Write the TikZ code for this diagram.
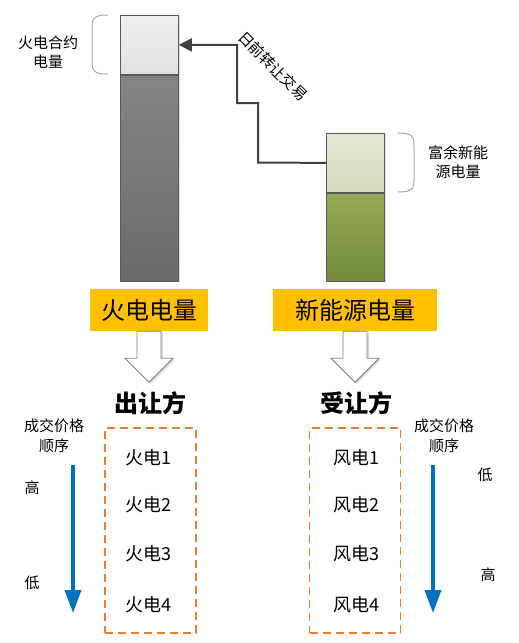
\documentclass[tikz,border=0pt]{standalone}
\usepackage{fontspec}
\setmainfont{Noto Sans CJK SC}
\usetikzlibrary{arrows.meta,positioning,shadows}
\definecolor{barline}{HTML}{595959}
\definecolor{linkgray}{HTML}{404040}
\definecolor{bracegray}{HTML}{A6A6A6}
\definecolor{gold}{HTML}{FFC000}
\definecolor{dashorange}{HTML}{ED7D31}
\definecolor{arrowblue}{HTML}{0070C0}
\newcommand{\fs}[1]{\fontsize{#1}{1.3\dimexpr#1pt\relax}\selectfont}

\begin{document}
\begin{tikzpicture}[x=1pt,y=-1pt,>=Stealth,
  barpart/.style={draw=barline,line width=0.8pt,minimum width=58pt,inner sep=0pt,
    drop shadow={shadow xshift=2pt,shadow yshift=-1pt,opacity=.25}},
  note/.style={font=\fs{15},align=center,inner sep=0pt},
  bracepath/.style={draw=bracegray,line width=1pt},
  goldbox/.style={fill=gold,minimum height=42pt,inner sep=0pt,font=\fs{24}},
  hollow/.style={draw=gray,fill=white,line width=0.8pt,
    drop shadow={shadow xshift=2pt,shadow yshift=-1.5pt,opacity=.3}},
  party/.style={font=\fs{24}\bfseries,inner sep=0pt},
  listbox/.style={draw=dashorange,line width=1.5pt,dash pattern=on 8pt off 5pt,
    minimum width=91pt,minimum height=205pt,inner sep=0pt},
  item/.style={font=\fs{18},inner sep=0pt},
  order/.style={draw=arrowblue,line width=3.5pt,-{Triangle[length=23pt,width=16pt]}},
  link/.style={draw=linkgray,line width=2pt}]
\useasboundingbox (0,0) rectangle (519,643);

% bars
\node[barpart,top color=white!94!black,bottom color=white!88!black,
  minimum height=59pt,anchor=north west] (glight) at (120,15) {};
\node[barpart,top color=black!48,bottom color=black!58,
  minimum height=206pt,anchor=north] (gdark) at (glight.south) {};
\node[barpart,top color={rgb,255:red,226;green,231;blue,211},bottom color={rgb,255:red,214;green,221;blue,190},
  minimum height=59pt,anchor=north west] (nlight) at (326,133) {};
\node[barpart,top color={rgb,255:red,150;green,169;blue,86},bottom color={rgb,255:red,117;green,137;blue,60},
  minimum height=88pt,anchor=north] (ndark) at (nlight.south) {};

% braces and notes
\draw[bracepath] (108,15) .. controls (94,15) and (92,18) .. (92,28) -- (92,61)
  .. controls (92,71) and (94,74) .. (108,74);
\node[note] (gnote) at (48,52) {火电合约\\电量};
\draw[bracepath] (398,133) .. controls (412,133) and (414,136) .. (414,146) -- (414,179)
  .. controls (414,189) and (412,192) .. (398,192);
\node[note] (nnote) at (458,162) {富余新能\\源电量};

% day-ahead transfer
\coordinate (bendA) at (237,103);
\coordinate (bendB) at (258,162.5);
\draw[link,{Triangle[length=13pt,width=13pt]}-] (glight.east) -| (bendA) -| (bendB) -- (nlight.west);
\node[note,rotate=-45] (tradelbl) at (273,66) {日前转让交易};

% labels
\node[goldbox,minimum width=118pt] (gbox) at (149,310) {火电电量};
\node[goldbox,minimum width=164pt] (nbox) at (355,310) {新能源电量};
\foreach \n in {gbox,nbox}
  \draw[hollow] (\n.south) ++(-12,0) -- ++(24,0) -- ++(0,27) -- ++(12,0)
    -- ++(-24,24) -- ++(-24,-24) -- ++(12,0) -- cycle;
\node[party] (seller) at (150,403) {出让方};
\node[party] (buyer) at (356,403) {受让方};

% lists
\node[listbox] (glist) at (150.5,530.5) {};
\node[listbox] (nlist) at (355,530.5) {};
\foreach \i/\y in {1/458,2/505,3/554,4/605} {
  \node[item] (g\i) at (148,\y) {火电\i};
  \node[item] (w\i) at (356,\y) {风电\i};
}

% price order
\node[note] (gorder) at (54,436) {成交价格\\顺序};
\node[note] (norder) at (444,436) {成交价格\\顺序};
\coordinate (gtop) at (73,465);
\coordinate (gbot) at (73,613);
\coordinate (ntop) at (433,465);
\coordinate (nbot) at (433,613);
\draw[order] (gtop) -- (gbot);
\draw[order] (ntop) -- (nbot);
\node[note] (ghigh) at (32,488) {高};
\node[note] (glow) at (32,583) {低};
\node[note] (nlow) at (485,475) {低};
\node[note] (nhigh) at (488,575) {高};
\end{tikzpicture}
\end{document}
